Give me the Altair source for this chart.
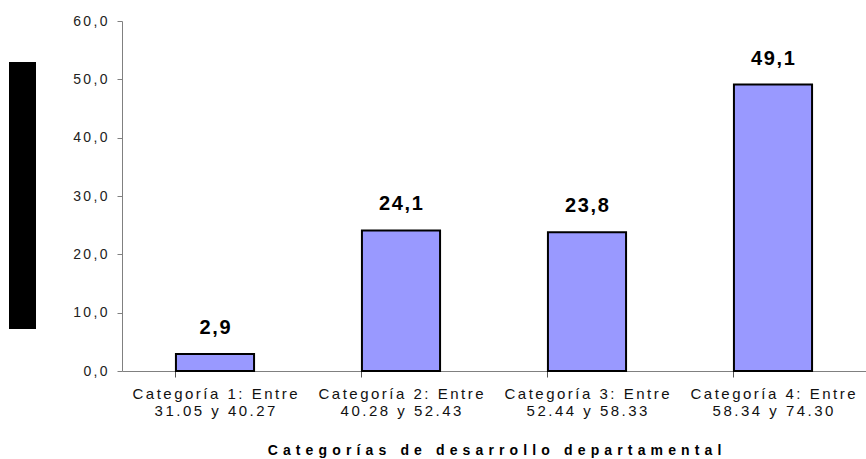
import altair as alt
import pandas as pd

# Category labels (two lines each) and their percentages
categoria_linea1 = [
    "Categoría 1: Entre",
    "Categoría 2: Entre",
    "Categoría 3: Entre",
    "Categoría 4: Entre",
]
categoria_linea2 = [
    "31.05 y 40.27",
    "40.28 y 52.43",
    "52.44 y 58.33",
    "58.34 y 74.30",
]
porcentajes = [2.9, 24.1, 23.8, 49.1]
y_ticks = [0, 10, 20, 30, 40, 50, 60]
titulo_x = "Categorías de desarrollo departamental"

# Wide character tracking, done with narrow Unicode spaces between glyphs
SIX_PER_EM = "\u2006"
TITLE_GAP = "\u2009\u2006"


def espaciar(texto, sep):
    return sep.join(texto)


categorias = [
    espaciar(a, SIX_PER_EM) + "|" + espaciar(b, SIX_PER_EM)
    for a, b in zip(categoria_linea1, categoria_linea2)
]

df = pd.DataFrame({
    "categoria": categorias,
    "porcentaje": porcentajes,
    "texto": [espaciar(f"{v:.1f}".replace(".", ","), "\u200a") for v in porcentajes],
})

FONT = "Liberation Sans"
AXIS_GRAY = "#808080"

x_scale = alt.Scale(domain=categorias, paddingInner=0.58, paddingOuter=0.29)
y_scale = alt.Scale(domain=[0, 60], nice=False)

x_axis = alt.Axis(
    title=espaciar(titulo_x, TITLE_GAP),
    orient="bottom",
    labelExpr="split(datum.label, '|')",
    labelAngle=0,
    labelFont=FONT,
    labelFontSize=15,
    labelColor="#111111",
    labelLineHeight=17,
    labelPadding=15,
    labelBaseline="top",
    labelLimit=0,
    ticks=False,
    domainColor=AXIS_GRAY,
    domainWidth=1,
    titleFont=FONT,
    titleFontSize=14,
    titleFontWeight="bold",
    titleColor="#000000",
    titlePadding=25,
    titleLimit=0,
)

# Tick-only axis: ticks sit on the boundaries between categories
x_axis_ticks = alt.Axis(
    orient="bottom",
    bandPosition=0,
    labels=False,
    title=None,
    domain=False,
    ticks=True,
    tickSize=6,
    tickColor="#555555",
    tickWidth=1,
)

y_axis = alt.Axis(
    title=None,
    values=y_ticks,
    labelExpr="join(split(replace(format(datum.value, '.1f'), '.', ','), ''), '\u2006')",
    labelFont=FONT,
    labelFontSize=14,
    labelColor="#222222",
    labelPadding=10,
    tickSize=5,
    tickColor=AXIS_GRAY,
    domainColor=AXIS_GRAY,
    domainWidth=1,
    grid=False,
)

base = alt.Chart(df)

bars = base.mark_bar(
    color="#9999FF", stroke="#000000", strokeWidth=2
).encode(
    x=alt.X("categoria:N", sort=categorias, scale=x_scale, axis=x_axis),
    y=alt.Y("porcentaje:Q", scale=y_scale, axis=y_axis),
)

# Value labels above each bar, with decimal comma; this layer also carries the tick axis
etiquetas = base.mark_text(
    font=FONT, fontSize=20, fontWeight="bold", color="#000000",
    baseline="alphabetic", dy=-20,
).encode(
    x=alt.X("categoria:N", sort=categorias, axis=x_axis_ticks),
    y=alt.Y("porcentaje:Q"),
    text="texto:N",
)

# Solid black block left of the value axis
bloque = alt.Chart(alt.Data(values=[{"k": 1}])).mark_rect(color="#000000").encode(
    x=alt.value(-113),
    x2=alt.value(-86),
    y=alt.value(41),
    y2=alt.value(308),
)

chart = alt.layer(bars, etiquetas, bloque).resolve_axis(x="independent").properties(
    width=744,
    height=350,
    padding={"left": 122, "top": 21, "right": 0, "bottom": 88},
    autosize=alt.AutoSizeParams(type="none"),
    background="#ffffff",
).configure_view(stroke=None)

chart.save("out.html", embed_options={"renderer": "svg", "actions": False})
